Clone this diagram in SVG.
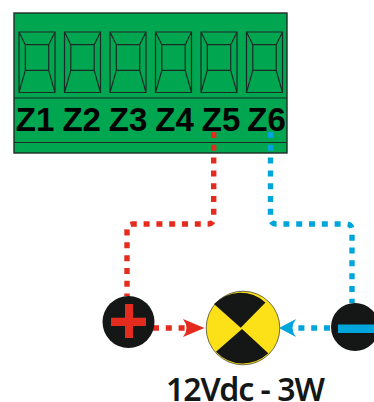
<svg xmlns="http://www.w3.org/2000/svg" width="374" height="402" viewBox="0 0 374 402">
<style>
.slot{fill:none;stroke:#1d2b26;stroke-width:1.2}
.z{font:bold 33px "Liberation Sans",Arial,sans-serif;fill:#000;text-anchor:middle}
.red{fill:none;stroke:#e42c1e;stroke-width:5.4;stroke-dasharray:6 6.8}
.blue{fill:none;stroke:#00a5dc;stroke-width:5.4;stroke-dasharray:6 6.8}
.blk{fill:#151716}
</style>
<defs>
<g id="slot">
<path class="slot" d="M0 0H36V60.500H0ZM6.300 12.700H29.700V38.300H6.300ZM0 0L6.300 12.700M36 0L29.700 12.700M6.300 38.300L0 60.500M29.700 38.300L36 60.500M6.300 38.300H29.700"/>
</g>
</defs>
<g id="terminal-block">
<rect x="14" y="13" width="273" height="140" fill="#00a650" stroke="#1d2b26" stroke-width="1.4"/>
<path d="M14 98H287M14 142.500H287" stroke="#1d2b26" stroke-width="1.2" fill="none"/>
<use href="#slot" x="19" y="32"/>
<use href="#slot" x="64.500" y="32"/>
<use href="#slot" x="110" y="32"/>
<use href="#slot" x="155.500" y="32"/>
<use href="#slot" x="201" y="32"/>
<use href="#slot" x="246.500" y="32"/>
<text class="z" x="35" y="130.700">Z1</text>
<text class="z" x="81.700" y="130.700">Z2</text>
<text class="z" x="128" y="130.700">Z3</text>
<text class="z" x="174.500" y="130.700">Z4</text>
<text class="z" x="221" y="130.700">Z5</text>
<text class="z" x="266.500" y="130.700">Z6</text>
</g>
<g id="connectors">
<path class="red" d="M213.700 132V218Q213.700 224 207.700 224H133Q127 224 127 230V296"/>
<path class="blue" d="M270.500 132V218Q270.500 224 276.500 224H346Q352 224 352 230V303"/>
<path class="red" d="M153 328H186"/>
<path class="blue" d="M330 328H292"/>
<path d="M204.500 328L183 319Q190 328 183 337Z" fill="#e42c1e"/>
<path d="M279 328L296 319Q289 328 296 337Z" fill="#00a5dc"/>
</g>
<g id="plus">
<circle class="blk" cx="128.500" cy="322" r="26"/>
<path d="M125 304H133V317.700H146V326H133V338H125V326H111V317.700H125Z" fill="#e42c1e"/>
</g>
<g id="lamp">
<circle cx="243" cy="328" r="36.800" fill="#fde118" stroke="#4a4a30" stroke-width="0.8"/>
<path class="blk" d="M214 304A37 37 0 0 1 265.500 302.500L240.700 327.700ZM216 351.700L242 329L268.300 353.300A36.800 36.800 0 0 1 216 351.700Z"/>
</g>
<g id="minus">
<circle class="blk" cx="355" cy="327" r="24"/>
<rect x="338" y="324.500" width="36" height="8.500" fill="#00a5dc"/>
</g>
<g id="label">
<text x="166" y="401" font-family="'Noto Sans','Open Sans',sans-serif" font-size="32" font-weight="600" fill="#151716" textLength="159">12Vdc - 3W</text>
</g>
</svg>
